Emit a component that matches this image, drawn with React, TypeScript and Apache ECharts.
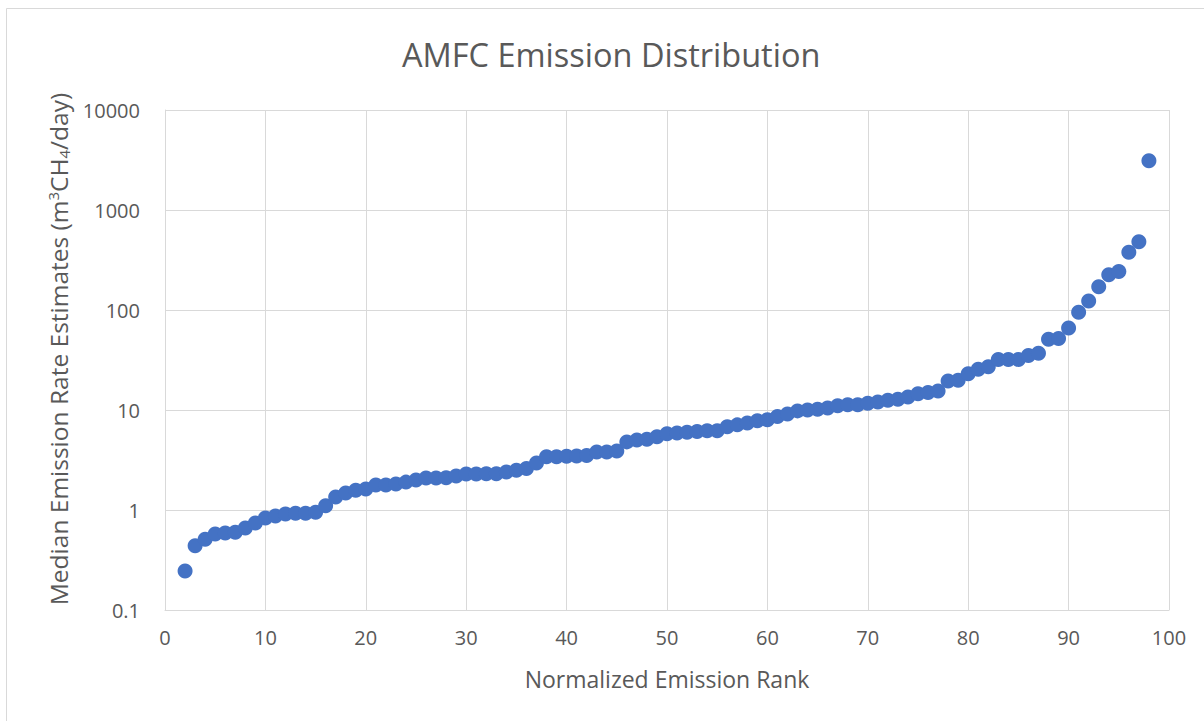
import React, { useEffect, useRef } from "react";
import * as echarts from "echarts";

const ranks: number[] = [
  2, 3, 4, 5, 6, 7, 8, 9, 10, 11, 12, 13, 14, 15, 16, 17, 18, 19, 20, 21, 22, 23, 24, 25,
  26, 27, 28, 29, 30, 31, 32, 33, 34, 35, 36, 37, 38, 39, 40, 41, 42, 43, 44, 45, 46, 47, 48,
  49, 50, 51, 52, 53, 54, 55, 56, 57, 58, 59, 60, 61, 62, 63, 64, 65, 66, 67, 68, 69, 70, 71,
  72, 73, 74, 75, 76, 77, 78, 79, 80, 81, 82, 83, 84, 85, 86, 87, 88, 89, 90, 91, 92, 93, 94,
  95, 96, 97, 98,
];

const emissions: number[] = [
  0.245, 0.44, 0.51, 0.575, 0.59, 0.6, 0.66, 0.74, 0.83, 0.87, 0.91, 0.93, 0.93, 0.95, 1.1,
  1.35, 1.48, 1.58, 1.62, 1.78, 1.78, 1.82, 1.9, 2.0, 2.09, 2.09, 2.1, 2.19, 2.29, 2.29, 2.3,
  2.3, 2.4, 2.5, 2.6, 2.95, 3.4, 3.4, 3.45, 3.47, 3.5, 3.8, 3.8, 3.9, 4.8, 5.0, 5.1, 5.4, 5.8,
  5.9, 6.0, 6.1, 6.2, 6.2, 6.8, 7.1, 7.4, 7.8, 8.0, 8.6, 9.1, 9.8, 10.0, 10.2, 10.5, 11, 11.3,
  11.3, 11.7, 12.0, 12.5, 12.8, 13.5, 14.5, 15, 15.5, 19.5, 19.8, 23, 25.5, 27, 32, 32, 32, 35,
  37, 51, 52, 66, 95, 123, 171, 225, 242, 378, 482, 3110,
];

const titleText = "AMFC Emission Distribution";
const xAxisTitle = "Normalized Emission Rank";

export default function App() {
  const ref = useRef<HTMLDivElement>(null);
  useEffect(() => {
    if (!ref.current) return;
    const chart = echarts.init(ref.current, undefined, { renderer: "svg" });
    const font = "'Open Sans', 'Noto Sans', sans-serif";
    const gray = "#595959";
    const gridColor = "#d9d9d9";
    chart.setOption({
      animation: false,
      backgroundColor: "#ffffff",
      textStyle: { fontFamily: font },
      title: {
        text: titleText,
        left: 397,
        top: 33,
        textStyle: { fontFamily: font, fontSize: 32.5, fontWeight: "normal", color: gray },
      },
      graphic: [
        {
          type: "rect",
          shape: { x: 6.5, y: 8.5, width: 1230, height: 760 },
          style: { fill: "none", stroke: gridColor, lineWidth: 1 },
          silent: true,
        },
      ],
      grid: { left: 165, right: 35, top: 110, bottom: 111, containLabel: false },
      xAxis: {
        type: "value",
        min: 0,
        max: 100,
        interval: 10,
        name: xAxisTitle,
        nameLocation: "middle",
        nameGap: 57,
        nameTextStyle: { fontFamily: font, fontSize: 23, color: gray },
        axisLine: { show: true, lineStyle: { color: gridColor, width: 1 } },
        axisTick: { show: false },
        axisLabel: { margin: 17, fontFamily: font, fontSize: 20, color: gray },
        splitLine: { show: true, lineStyle: { color: gridColor, width: 1 } },
      },
      yAxis: {
        type: "log",
        logBase: 10,
        min: 0.1,
        max: 10000,
        name: "Median Emission Rate Estimates (m{sup|3}CH{sub|4}/day)",
        nameLocation: "middle",
        nameGap: 94,
        nameRotate: 90,
        nameTextStyle: {
          fontFamily: font,
          fontSize: 24.5,
          color: gray,
          padding: [0, 0, 0, 22],
          rich: {
            sup: { fontSize: 15, color: gray, fontFamily: font, padding: [0, 0, 11, 0] },
            sub: { fontSize: 15, color: gray, fontFamily: font, padding: [11, 0, 0, 0] },
          },
        },
        axisLine: { show: true, lineStyle: { color: gridColor, width: 1 } },
        axisTick: { show: false },
        axisLabel: {
          margin: 25,
          fontFamily: font,
          fontSize: 20,
          color: gray,
          formatter: (v: number) => String(Number(v.toPrecision(6))),
        },
        splitLine: { show: true, lineStyle: { color: gridColor, width: 1 } },
      },
      series: [
        {
          type: "scatter",
          data: ranks.map((r, i) => [r, emissions[i]]),
          symbol: "circle",
          symbolSize: 15,
          itemStyle: { color: "#4472C4", opacity: 1 },
        },
      ],
    });
    return () => chart.dispose();
  }, []);
  return (
    <div
      ref={ref}
      style={{ position: "fixed", left: 0, top: 0, width: 1204, height: 721 }}
    />
  );
}
